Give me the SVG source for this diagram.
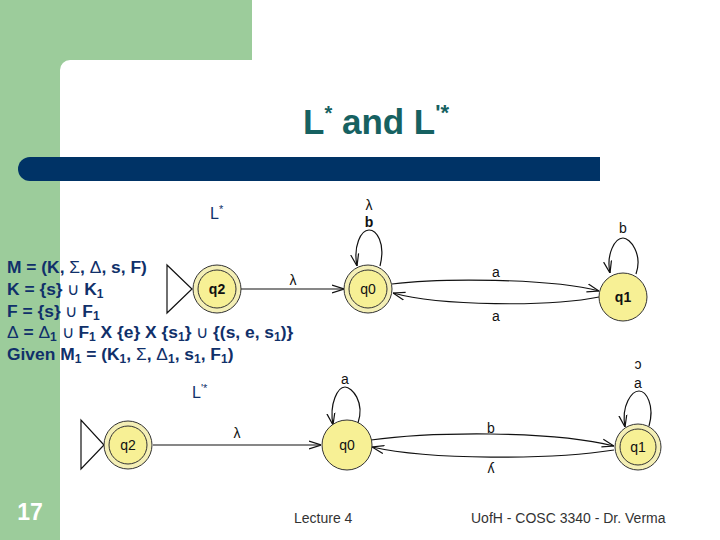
<svg xmlns="http://www.w3.org/2000/svg" width="720" height="540" viewBox="0 0 720 540">
<defs>
<style>
.body{font-family:"Liberation Sans",Arial,sans-serif;font-size:17.4px;font-weight:bold;fill:#10306a}
.sym{font-weight:normal}
.lbl{font-family:"Liberation Sans",Arial,sans-serif;font-size:14px;fill:#111}
.st{font-family:"Liberation Sans",Arial,sans-serif;font-size:14px;fill:#111;text-anchor:middle}
.edge{fill:none;stroke:#111;stroke-width:1.2}
.ring{fill:#f4efb6;stroke:#333;stroke-width:1}
.core{fill:#f7f095;stroke:#333;stroke-width:1}
.foot{font-family:"Liberation Sans",Arial,sans-serif;font-size:14px;fill:#333}
</style>
<marker id="arr" viewBox="0 0 12 10" refX="12" refY="5" markerWidth="12" markerHeight="10" markerUnits="userSpaceOnUse" orient="auto">
<path d="M0,1 L12,5 L0,9" fill="none" stroke="#111" stroke-width="1.2"/>
</marker>
</defs>
<rect width="720" height="540" fill="#fff"/>
<rect x="0" y="0" width="252" height="60" fill="#9ccc9b"/>
<rect x="0" y="0" width="60" height="540" fill="#9ccc9b"/>
<path d="M60,60 L70,60 A10,10 0 0 0 60,70 Z" fill="#9ccc9b"/>
<path d="M30,157 L600,157 L600,181 L30,181 A12,12 0 0 1 30,157 Z" fill="#003366"/>
<text x="303" y="134" font-family="'Liberation Sans',Arial,sans-serif" font-size="35" font-weight="bold" fill="#166161">L<tspan font-size="20" dy="-14">*</tspan><tspan dy="14"> and L</tspan><tspan font-size="22" dy="-14">'*</tspan></text>

<g id="text-defs">
<text class="body" x="7" y="273">M = (K, <tspan class="sym">Σ</tspan>, <tspan class="sym">Δ</tspan>, s, F)</text>
<text class="body" x="7" y="295">K = {s} <tspan class="sym">∪</tspan> K<tspan font-size="12" dy="3">1</tspan></text>
<text class="body" x="7" y="317">F = {s} <tspan class="sym">∪</tspan> F<tspan font-size="12" dy="3">1</tspan></text>
<text class="body" x="7" y="338"><tspan class="sym">Δ</tspan> = <tspan class="sym">Δ</tspan><tspan font-size="12" dy="3">1</tspan><tspan dy="-3"> </tspan><tspan class="sym">∪</tspan> F<tspan font-size="12" dy="3">1</tspan><tspan dy="-3"> X {e} X {s</tspan><tspan font-size="12" dy="3">1</tspan><tspan dy="-3">} </tspan><tspan class="sym">∪</tspan> {(s, e, s<tspan font-size="12" dy="3">1</tspan><tspan dy="-3">)}</tspan></text>
<text class="body" x="7" y="360">Given M<tspan font-size="12" dy="3">1</tspan><tspan dy="-3"> = (K</tspan><tspan font-size="12" dy="3">1</tspan><tspan dy="-3">, </tspan><tspan class="sym">Σ</tspan>, <tspan class="sym">Δ</tspan><tspan font-size="12" dy="3">1</tspan><tspan dy="-3">, s</tspan><tspan font-size="12" dy="3">1</tspan><tspan dy="-3">, F</tspan><tspan font-size="12" dy="3">1</tspan><tspan dy="-3">)</tspan></text>
<text x="210" y="219" font-family="'Liberation Sans',Arial,sans-serif" font-size="16" fill="#10306a">L<tspan font-size="11" dy="-6">*</tspan></text>
<text x="192" y="398" font-family="'Liberation Sans',Arial,sans-serif" font-size="16" fill="#10306a">L<tspan font-size="11" dy="-6">'*</tspan></text>
</g>

<g id="connectors">
<path class="edge" d="M241,289 L344,289" marker-end="url(#arr)"/>
<path class="edge" d="M380,266 C386,242 376,230 369,230 C361,230 353,246 357,266" marker-end="url(#arr)"/>
<path class="edge" d="M392,284 C440,278 550,278 599,291" marker-end="url(#arr)"/>
<path class="edge" d="M599,297 C550,307 440,306 393,293" marker-end="url(#arr)"/>
<path class="edge" d="M636,274 C643,254 630,238 623,238 C615,238 606,254 610,273" marker-end="url(#arr)"/>
<path class="edge" d="M153,445 L321,445" marker-end="url(#arr)"/>
<path class="edge" d="M358,423 C365,402 352,387 345,387 C338,387 329,403 333,425" marker-end="url(#arr)"/>
<path class="edge" d="M371,440 C430,432 550,430 614,446" marker-end="url(#arr)"/>
<path class="edge" d="M614,450 C550,460 430,460 372,447" marker-end="url(#arr)"/>
<path class="edge" d="M649,426 C655,405 646,391 639,391 C632,391 621,405 625,427" marker-end="url(#arr)"/>
<text class="lbl" x="293" y="285" text-anchor="middle">λ</text>
<text class="lbl" x="369" y="210" text-anchor="middle">λ</text>
<text class="lbl" x="369" y="227" text-anchor="middle" font-weight="bold">b</text>
<text class="lbl" x="496" y="277" text-anchor="middle">a</text>
<text class="lbl" x="496" y="321" text-anchor="middle">a</text>
<text class="lbl" x="623" y="233" text-anchor="middle">b</text>
<text class="lbl" x="237" y="438" text-anchor="middle">λ</text>
<text class="lbl" x="345" y="384" text-anchor="middle">a</text>
<text class="lbl" x="491" y="433" text-anchor="middle">b</text>
<text class="lbl" x="491" y="473" text-anchor="middle">ʎ</text>
<text class="lbl" x="638" y="369" text-anchor="middle" font-size="11">ɔ</text>
<text class="lbl" x="638" y="388" text-anchor="middle">a</text>
</g>

<g id="start1"><path d="M167,265 L167,313 L192,289 Z" fill="#fff" stroke="#111" stroke-width="1.2"/></g>
<g id="q2-top"><circle class="ring" cx="217" cy="289" r="24"/><circle class="core" cx="217" cy="289" r="19"/><text class="st" x="217" y="294" font-weight="bold">q2</text></g>
<g id="q0-top"><circle class="ring" cx="368" cy="289" r="24"/><circle class="core" cx="368" cy="289" r="19"/><text class="st" x="368" y="294">q0</text></g>
<g id="q1-top"><circle class="core" cx="623" cy="297" r="24"/><text class="st" x="623" y="302" font-weight="bold">q1</text></g>

<g id="start2"><path d="M81,420 L81,469 L104,445 Z" fill="#fff" stroke="#111" stroke-width="1.2"/></g>
<g id="q2-bot"><circle class="ring" cx="128" cy="445" r="24"/><circle class="core" cx="128" cy="445" r="19"/><text class="st" x="128" y="450">q2</text></g>
<g id="q0-bot"><circle class="core" cx="347" cy="445" r="25"/><text class="st" x="347" y="450">q0</text></g>
<g id="q1-bot"><circle class="ring" cx="638" cy="447" r="23"/><circle class="core" cx="638" cy="447" r="18"/><text class="st" x="638" y="452">q1</text></g>

<text x="30" y="520" text-anchor="middle" font-family="'Liberation Sans',Arial,sans-serif" font-size="23" font-weight="bold" fill="#fff">17</text>
<text class="foot" x="294" y="523">Lecture 4</text>
<text class="foot" x="471" y="523">UofH - COSC 3340 - Dr. Verma</text>
</svg>
